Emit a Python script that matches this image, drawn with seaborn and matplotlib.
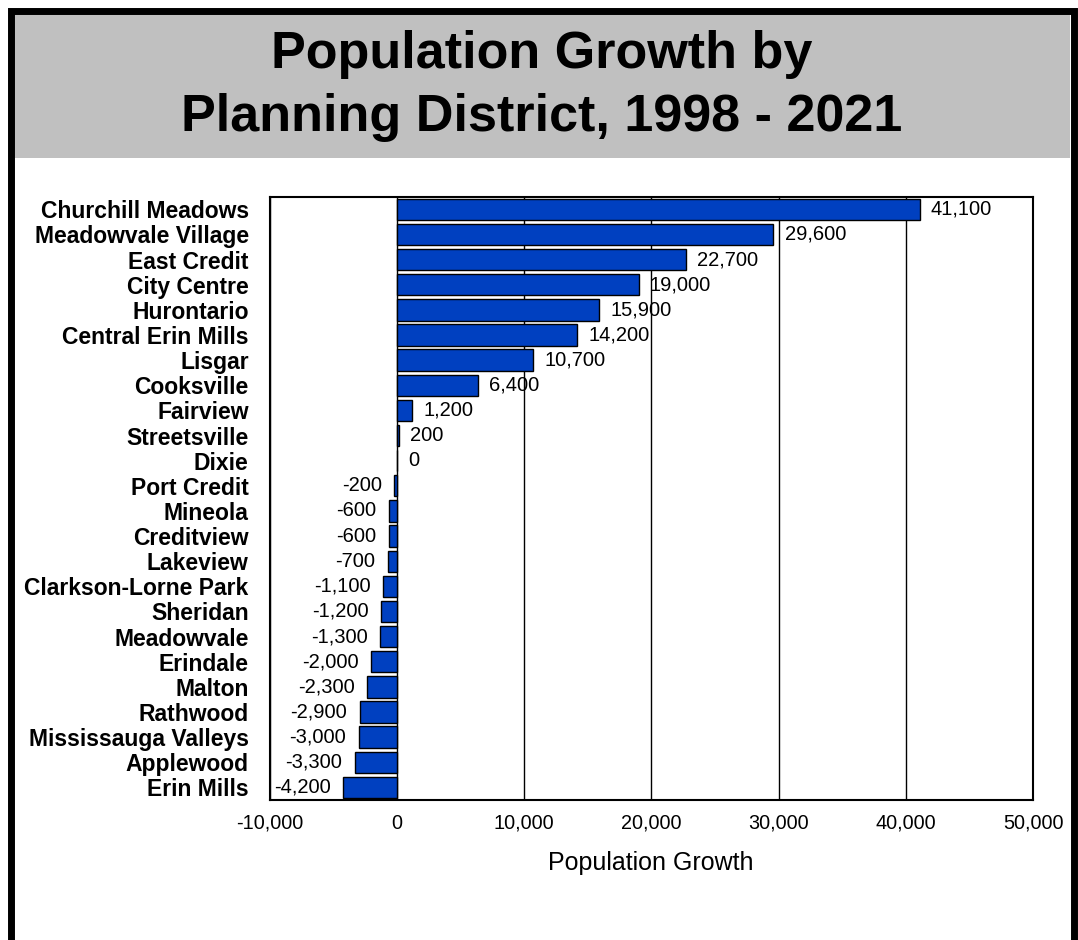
import matplotlib
matplotlib.use("Agg")
import matplotlib.pyplot as plt
import seaborn as sns
import pandas as pd
from matplotlib.patches import Rectangle
from matplotlib.ticker import FuncFormatter, MultipleLocator

districts = ["Churchill Meadows", "Meadowvale Village", "East Credit", "City Centre",
             "Hurontario", "Central Erin Mills", "Lisgar", "Cooksville", "Fairview",
             "Streetsville", "Dixie", "Port Credit", "Mineola", "Creditview", "Lakeview",
             "Clarkson-Lorne Park", "Sheridan", "Meadowvale", "Erindale", "Malton",
             "Rathwood", "Mississauga Valleys", "Applewood", "Erin Mills"]
growth = [41100, 29600, 22700, 19000, 15900, 14200, 10700, 6400, 1200, 200, 0,
          -200, -600, -600, -700, -1100, -1200, -1300, -2000, -2300, -2900, -3000,
          -3300, -4200]
title_lines = ["Population Growth by", "Planning District, 1998 - 2021"]
x_label = "Population Growth"

df = pd.DataFrame({"district": districts, "growth": growth})

sns.set_theme(style="white")
plt.rcParams["font.family"] = ["Liberation Sans", "DejaVu Sans"]

fig = plt.figure(figsize=(10.78, 9.4), dpi=100)
W, H = 1078, 940

# title band and frame
fig.patches.append(Rectangle((14 / W, 1 - 158 / H), (1070 - 14) / W, (158 - 14) / H,
                             transform=fig.transFigure, facecolor="#C0C0C0",
                             edgecolor="none", zorder=0))
fig.patches.append(Rectangle((11 / W, -0.1), (1074 - 11) / W, 1 - 11 / H + 0.1,
                             transform=fig.transFigure, facecolor="none",
                             edgecolor="black", linewidth=5, zorder=5))
for line, base in zip(title_lines, [68, 131]):
    fig.text(542 / W, 1 - base / H, line, ha="center", va="baseline",
             fontsize=37.5, fontweight="bold", color="black")

ax = fig.add_axes([269.5 / W, 1 - 800 / H, (1033 - 269.5) / W, (800 - 196.7) / H])
sns.barplot(data=df, x="growth", y="district", orient="h", color="#0040C0",
            edgecolor="black", linewidth=1, width=0.85, saturation=1, ax=ax, zorder=3)

ax.set_xlim(-10000, 50000)
ax.xaxis.set_major_locator(MultipleLocator(10000))
ax.xaxis.set_major_formatter(FuncFormatter(lambda v, p: f"{int(v):,}"))
ax.grid(axis="x", color="black", linewidth=1, zorder=1)
ax.set_axisbelow(True)
for s in ax.spines.values():
    s.set_color("black")
    s.set_linewidth(1.5)
ax.tick_params(axis="both", length=0)
ax.tick_params(axis="x", labelsize=14.3, pad=10, colors="black")
ax.tick_params(axis="y", labelsize=16.5, pad=15, colors="black")
for lab in ax.get_yticklabels():
    lab.set_fontweight("bold")
ax.set_ylabel("")
ax.set_xlabel(x_label, fontsize=18, labelpad=13, color="black")

for i, v in enumerate(growth):
    if v >= 0:
        ax.annotate(f"{v:,}", (v, i), xytext=(8, 0), textcoords="offset points",
                    ha="left", va="center", fontsize=14.5, color="black", zorder=4)
    else:
        ax.annotate(f"{v:,}", (v, i), xytext=(-9, 0), textcoords="offset points",
                    ha="right", va="center", fontsize=14.5, color="black", zorder=4)

fig.savefig("out.png", dpi=100, facecolor="white")
